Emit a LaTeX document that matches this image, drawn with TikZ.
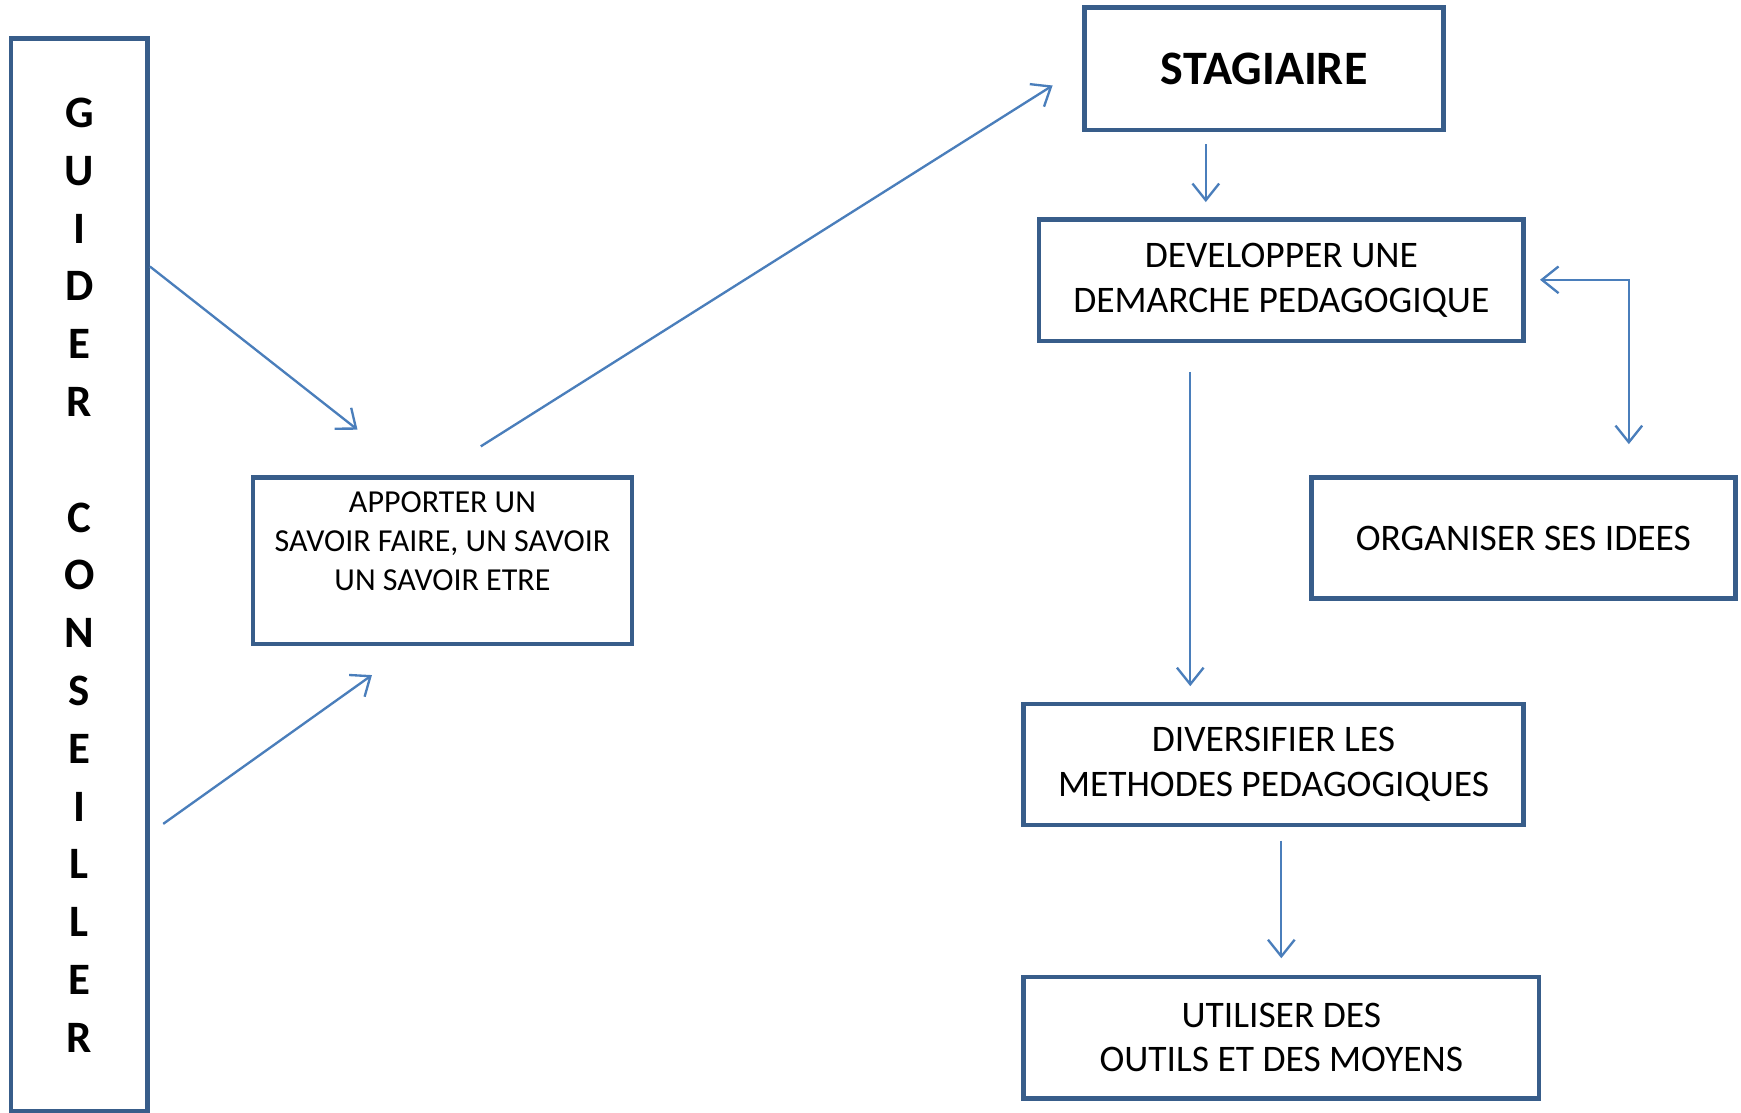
\documentclass[tikz,border=0pt]{standalone}
\usepackage{fontspec}
\setmainfont{Carlito}
\usetikzlibrary{arrows.meta,positioning}
\definecolor{boxblue}{RGB}{56,93,138}
\definecolor{linkblue}{RGB}{74,126,187}
\tikzset{etape/.style={draw=boxblue,line width=1.2pt,align=center,inner sep=0pt}}
\tikzset{lien/.style={->,draw=linkblue,line width=0.6pt}}
\newcommand{\Txt}{\fontsize{9.6}{11.4}\selectfont}
\newcommand{\Petit}{\fontsize{8.2}{10}\selectfont}
\begin{document}
\begin{tikzpicture}[x=0.01cm,y=-0.01cm,>={Straight Barb[length=1.5mm,width=2.4mm]}]
\useasboundingbox (0,0) rectangle (1568,1002);
% \draw[help lines] (0,0) grid (1568,1002);
\node (guider) [etape,minimum width=1.23cm,minimum height=9.66cm,font=\bfseries\fontsize{11.5}{14.8}\selectfont] at (71.5,518)
  {G\\U\\I\\D\\E\\R\\\mbox{}\\C\\O\\N\\S\\E\\I\\L\\L\\E\\R};
\node (apport) [etape,minimum width=3.41cm,minimum height=1.5cm,font=\Petit] at (398.5,505)
  {APPORTER UN\\SAVOIR FAIRE, UN SAVOIR\\UN SAVOIR ETRE\\\mbox{}};
\node (stag) [etape,minimum width=3.23cm,minimum height=1.1cm,font=\bfseries\fontsize{12.3}{14}\selectfont] at (1138.5,62) {STAGIAIRE};
\node (devel) [etape,minimum width=4.36cm,minimum height=1.09cm,font=\Txt] at (1154,252.5) {DEVELOPPER UNE\\DEMARCHE PEDAGOGIQUE};
\node (orga) [etape,minimum width=3.82cm,minimum height=1.09cm,font=\Txt] at (1372,484.5) {ORGANISER SES IDEES};
\node (divers) [etape,minimum width=4.5cm,minimum height=1.09cm,font=\Txt] at (1147,688.5) {DIVERSIFIER LES\\METHODES PEDAGOGIQUES};
\node (outils) [etape,minimum width=4.64cm,minimum height=1.09cm,font=\Txt] at (1154,934.5) {UTILISER DES\\OUTILS ET DES MOYENS};
%
\coordinate (g1) at (135,240); \coordinate (a1) at (322,387);
\coordinate (g2) at (147,742); \coordinate (a2) at (335,608);
\coordinate (a3) at (433,402); \coordinate (s1) at (948,77);
\coordinate (s2) at (1086,130); \coordinate (d1) at (1086,182);
\coordinate (d2) at (1072,335); \coordinate (v1) at (1072,618);
\coordinate (d3) at (1387,252); \coordinate (o1) at (1467,400);
\coordinate (v2) at (1154,757); \coordinate (u1) at (1154,863);
%
\draw[lien] (g1) -- (a1);
\draw[lien] (g2) -- (a2);
\draw[lien] (a3) -- (s1);
\draw[lien] (s2) -- (d1);
\draw[lien] (d2) -- (v1);
\draw[lien,<->] (d3) -| (o1);
\draw[lien] (v2) -- (u1);
%
\end{tikzpicture}
\end{document}
